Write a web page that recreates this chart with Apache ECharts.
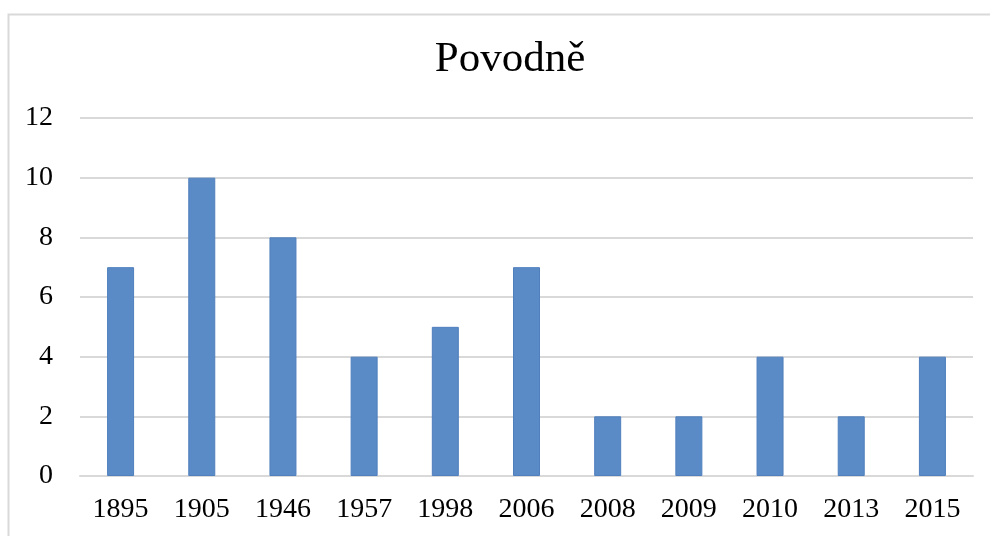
<!DOCTYPE html>
<html>
<head>
<meta charset="utf-8">
<script src="https://cdn.jsdelivr.net/npm/echarts@6/dist/echarts.min.js"></script>
<style>
  html, body { margin: 0; padding: 0; background: #fff; }
  #chart { width: 990px; height: 536px; }
</style>
</head>
<body>
<div id="chart"></div>
<script>
// data
var years = ['1895', '1905', '1946', '1957', '1998', '2006', '2008', '2009', '2010', '2013', '2015'];
var counts = [7, 10, 8, 4, 5, 7, 2, 2, 4, 2, 4];
var yTicks = [0, 2, 4, 6, 8, 10, 12];

var chart = echarts.init(document.getElementById('chart'));
var serif = '"Liberation Serif", "DejaVu Serif", serif';

var option = {
  animation: false,
  title: {
    text: 'Povodně',
    left: 505,
    textAlign: 'center',
    top: 33,
    textStyle: { fontFamily: serif, fontSize: 43, fontWeight: 'normal', color: '#000' }
  },
  graphic: [{
    type: 'rect',
    shape: { x: 8.5, y: 14.5, width: 1000, height: 600 },
    style: { fill: 'none', stroke: '#d9d9d9', lineWidth: 2 },
    silent: true
  }],
  grid: { left: 80, right: 17, top: 118, bottom: 60 },
  xAxis: {
    type: 'category',
    data: years,
    axisLine: { show: true, lineStyle: { color: '#d9d9d9', width: 2 } },
    axisTick: { show: false },
    axisLabel: { fontFamily: serif, fontSize: 28, color: '#000', margin: 20 }
  },
  yAxis: {
    type: 'value',
    min: yTicks[0],
    max: yTicks[yTicks.length - 1],
    interval: 2,
    axisLine: { show: false },
    axisTick: { show: false },
    splitLine: { lineStyle: { color: '#d9d9d9', width: 2 } },
    axisLabel: { fontFamily: serif, fontSize: 28, color: '#000', margin: 27 }
  },
  series: [{
    type: 'bar',
    data: counts,
    barWidth: 27,
    itemStyle: { color: '#5b8bc6', borderColor: '#4f7fbd', borderWidth: 1 }
  }]
};

chart.setOption(option);
</script>
</body>
</html>
